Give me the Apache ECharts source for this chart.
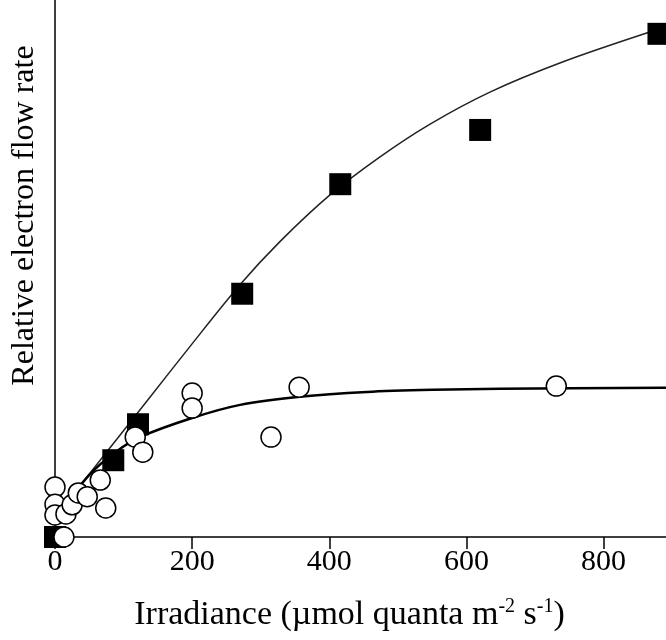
<!DOCTYPE html>
<html>
<head>
<meta charset="utf-8">
<script src="https://cdn.jsdelivr.net/npm/echarts@6.0.0/dist/echarts.min.js"></script>
<style>
  html, body { margin: 0; padding: 0; background: #fff; }
  #chart { width: 666px; height: 640px; }
</style>
</head>
<body>
<div id="chart"></div>
<script>
// x tick labels
const xTicks = [0, 200, 400, 600, 800]

// filled squares: irradiance / relative rate
const squareX = [0, 85, 121, 273, 416, 620, 880]
const squareY = [0, 14.3, 21.0, 45.3, 65.7, 75.8, 93.7]

// open circles
const circleX = [0, 0, 0, 13, 16, 25, 34, 47, 66, 74, 117, 128, 200, 200, 315, 356, 731]
const circleY = [9.3, 6.1, 4.1, 0, 4.3, 6.0, 8.2, 7.5, 10.6, 5.4, 18.6, 15.8, 26.8, 24.0, 18.6, 27.9, 28.1]

// fitted curves
const squareFitX = [0, 51, 95, 137, 197, 270, 328, 401, 474, 547, 635, 741, 864, 891]
const squareFitY = [3.5, 11.9, 19.0, 25.8, 35.5, 47.0, 55.0, 63.7, 70.8, 76.9, 82.9, 88.5, 93.9, 94.8]
const circleFitX = [0, 51, 88, 124, 201, 270, 357, 455, 551, 649, 891]
const circleFitY = [3.5, 11.7, 15.8, 18.6, 22.2, 24.6, 26.1, 27.0, 27.4, 27.6, 27.8]

const zip = (xs, ys) => xs.map((x, i) => [x, ys[i]])

const font = 'Liberation Serif'

const chart = echarts.init(document.getElementById('chart'))

chart.setOption({
  animation: false,
  grid: {
    left: 55,
    right: 0,
    top: 0,
    bottom: 103,
    containLabel: false,
    outerBoundsMode: 'none'
  },
  xAxis: {
    type: 'value',
    min: 0,
    max: 891,
    name: 'Irradiance (\u00b5mol quanta m{sup|-2} s{sup|-1})',
    nameLocation: 'middle',
    nameGap: 60,
    nameTextStyle: {
      fontFamily: font,
      fontSize: 34,
      color: '#000',
      padding: [0, 22, 0, 0],
      rich: {
        sup: {
          fontFamily: font,
          fontSize: 20,
          color: '#000',
          verticalAlign: 'top',
          padding: [0, 0, 16, 0]
        }
      }
    },
    axisLine: { lineStyle: { color: '#000', width: 1.5 } },
    axisTick: {
      inside: false,
      length: 12,
      customValues: xTicks,
      lineStyle: { color: '#000', width: 1.5 }
    },
    axisLabel: {
      customValues: xTicks,
      fontFamily: font,
      fontSize: 30,
      color: '#000',
      margin: 10
    },
    splitLine: { show: false }
  },
  yAxis: {
    type: 'value',
    min: 0,
    max: 100,
    name: 'Relative electron flow rate',
    nameLocation: 'middle',
    nameGap: 14,
    nameTextStyle: {
      fontFamily: font,
      fontSize: 32,
      color: '#000',
      padding: [0, 0, 0, 106]
    },
    axisLine: { show: true, lineStyle: { color: '#000', width: 1.5 } },
    axisTick: { show: false },
    axisLabel: { show: false },
    splitLine: { show: false }
  },
  series: [
    {
      type: 'line',
      data: zip(squareFitX, squareFitY),
      smooth: 0.3,
      showSymbol: false,
      lineStyle: { color: '#222', width: 1.5 },
      z: 1
    },
    {
      type: 'line',
      data: zip(circleFitX, circleFitY),
      smooth: 0.3,
      showSymbol: false,
      lineStyle: { color: '#000', width: 2.5 },
      z: 1
    },
    {
      type: 'scatter',
      data: zip(squareX, squareY),
      symbol: 'rect',
      symbolSize: 22,
      clip: false,
      itemStyle: { color: '#000', opacity: 1 },
      z: 2
    },
    {
      type: 'scatter',
      data: zip(circleX, circleY),
      symbol: 'circle',
      symbolSize: 20,
      clip: false,
      itemStyle: { color: '#fff', borderColor: '#000', borderWidth: 1.5, opacity: 1 },
      z: 3
    }
  ]
})
</script>
</body>
</html>
